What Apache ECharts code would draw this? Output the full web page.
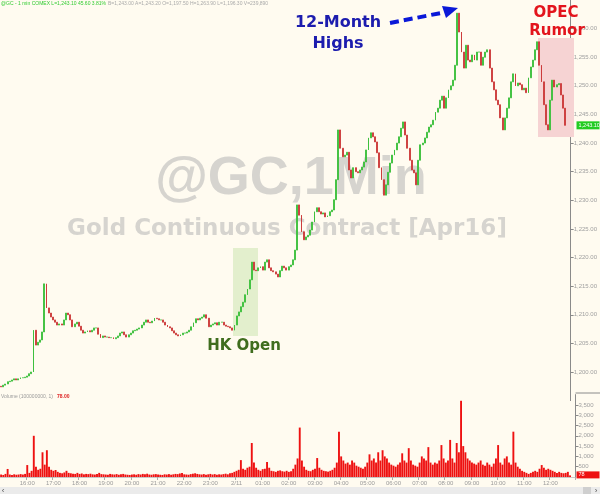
<!DOCTYPE html>
<html><head><meta charset="utf-8">
<script src="https://cdn.jsdelivr.net/npm/echarts@6/dist/echarts.min.js"></script>
<style>html,body{margin:0;padding:0;background:#fffbf0}#c{width:600px;height:494px}</style>
</head><body><div id="c"></div>
<script>
// ---- data ----
const startHour = 15, barMinutes = 5, totalBars = 264;
const hourLabels = ['16:00','17:00','18:00','19:00','20:00','21:00','22:00','23:00','2/11','01:00','02:00','03:00','04:00','05:00','06:00','07:00','08:00','09:00','10:00','11:00','12:00'];
const priceTicks = { min: 1195, max: 1265, interval: 5 };
const volumeTicks = { min: 0, max: 4000, interval: 500 };
const firstOpen = 1197.5;
const closes = [
1197.4,1197.7,1197.9,1198.3,1198.4,1198.6,1198.8,1198.6,1198.8,1199.0,
1199.0,1199.1,1199.3,1199.7,1200.0,1207.3,1204.7,1205.2,1205.6,1207.0,
1215.4,1211.2,1210.3,1209.6,1209.1,1208.7,1208.2,1208.4,1208.2,1209.1,
1210.3,1210.0,1209.1,1207.9,1208.4,1208.7,1208.0,1207.3,1206.8,1207.0,
1207.2,1207.0,1207.3,1207.7,1207.7,1206.6,1206.0,1206.3,1206.1,1206.1,
1206.0,1206.0,1205.8,1206.0,1206.3,1206.8,1207.0,1206.5,1206.1,1206.5,
1206.8,1207.2,1207.3,1207.5,1207.7,1208.2,1208.7,1209.1,1208.7,1208.6,
1208.9,1209.4,1209.3,1209.1,1209.1,1208.7,1208.2,1207.9,1207.7,1207.2,
1206.8,1206.5,1206.3,1206.5,1206.8,1206.8,1207.0,1207.3,1207.9,1208.6,
1209.3,1209.1,1209.4,1209.6,1210.0,1209.4,1207.9,1208.2,1208.4,1208.6,
1208.2,1208.7,1208.7,1208.2,1208.0,1207.9,1207.7,1207.3,1208.2,1209.8,
1210.5,1211.4,1212.2,1213.5,1214.5,1216.1,1219.2,1217.8,1217.7,1218.2,
1218.4,1217.8,1219.2,1219.6,1218.2,1217.7,1217.5,1217.1,1216.6,1217.7,
1218.5,1218.2,1217.8,1218.4,1218.7,1219.6,1221.3,1229.2,1227.4,1224.5,
1223.1,1223.6,1223.9,1224.8,1226.2,1228.0,1228.7,1228.0,1227.6,1227.8,
1227.1,1227.3,1228.0,1228.3,1230.1,1233.6,1242.3,1239.1,1237.6,1237.9,
1238.4,1235.3,1233.9,1235.7,1235.0,1234.8,1235.3,1235.8,1236.7,1238.8,
1240.9,1241.8,1241.1,1240.2,1238.3,1235.7,1233.6,1230.9,1232.7,1234.9,
1236.5,1237.9,1238.8,1240.0,1241.1,1242.6,1243.7,1241.4,1239.1,1237.0,
1235.3,1234.8,1232.7,1237.0,1239.7,1240.0,1240.9,1241.9,1242.8,1243.2,
1244.0,1245.4,1246.1,1247.5,1248.2,1246.1,1247.9,1249.3,1250.0,1251.0,
1253.6,1262.7,1259.4,1255.9,1253.1,1257.1,1254.5,1254.2,1255.4,1254.5,
1255.9,1255.9,1253.6,1255.0,1255.9,1256.3,1253.1,1250.7,1249.3,1247.5,
1246.7,1244.4,1242.3,1244.4,1246.1,1247.9,1250.7,1252.1,1250.0,1250.5,
1250.2,1249.3,1249.6,1248.8,1251.4,1253.3,1254.5,1256.3,1257.7,1253.6,
1250.7,1246.7,1243.2,1242.3,1247.5,1251.0,1249.8,1250.2,1250.4,1248.4,
1246.1,1243.1
];
const volumes = [
120,100,150,390,120,100,130,110,120,140,120,150,580,200,300,2000,500,350,400,1200,
600,1300,500,350,300,340,250,200,180,220,300,200,180,160,150,200,150,170,130,150,
140,160,130,120,150,200,140,130,120,110,150,130,120,140,110,130,150,120,110,100,
120,130,110,140,120,150,130,160,120,110,130,140,120,110,100,130,120,140,110,130,
150,140,170,200,130,120,110,140,160,180,150,130,120,140,110,130,150,120,140,110,
130,120,140,160,130,180,200,250,300,350,820,400,350,450,500,1650,700,450,350,300,
380,400,730,450,300,280,250,300,320,280,260,300,250,280,400,600,900,2400,800,500,
350,300,280,350,400,920,450,350,300,280,260,300,350,450,700,2200,1000,800,650,700,
600,800,700,550,500,450,400,500,700,1100,800,900,700,1200,800,1300,1000,900,700,600,
550,500,600,700,1150,800,700,1400,800,600,550,500,700,1000,900,800,1450,700,600,700,
650,800,1550,900,700,800,1800,900,700,1650,1200,3700,1500,1200,900,800,700,650,600,700,
800,600,550,700,600,500,650,900,1550,700,600,900,1000,700,600,2200,700,500,400,300,
250,200,150,200,250,300,250,400,580,450,350,400,350,300,250,200,250,200,180,200,
250,78
];
const headerGreen = '@GC - 1 min COMEX L=1,243.10 45.60 3.81%';
const headerGray = 'B=1,243.00 A=1,243.20 O=1,197.50 H=1,263.90 L=1,196.30 V=239,890';

// ---- build ----
const categories = [];
for (let i = 0; i < totalBars; i++) {
  const m = startHour * 60 + i * barMinutes;
  const h = Math.floor(m / 60) % 24, mm = m % 60;
  categories.push(String(h).padStart(2,'0') + ':' + String(mm).padStart(2,'0'));
}
const candles = closes.map((c, i) => {
  const o = i === 0 ? firstOpen : closes[i-1];
  return [o, c, Math.min(o, c), Math.max(o, c)];
});
const lastPrice = closes[closes.length-1];
const lastVol = volumes[volumes.length-1];
const FONT = 'Liberation Sans, Arial, sans-serif';
const VFONT = 'DejaVu Sans, Verdana, sans-serif';
const fmt = v => v.toLocaleString('en-US', {minimumFractionDigits:2, maximumFractionDigits:2});
const firstLabelIdx = (60 / barMinutes);
const isHour = idx => idx >= firstLabelIdx && (idx - firstLabelIdx) % (60 / barMinutes) === 0;

const chart = echarts.init(document.getElementById('c'), null, {renderer:'canvas'});
const gridRight = 24.5;
chart.setOption({
  backgroundColor: '#fffbf0',
  animation: false,
  grid: [
    {left: 0, right: gridRight, top: 0, height: 400.6},
    {left: 0, right: gridRight, top: 394.6, height: 82.4}
  ],
  xAxis: [
    {type:'category', gridIndex:0, data:categories, show:false, boundaryGap:true},
    {type:'category', gridIndex:1, data:categories, boundaryGap:true,
      axisLine:{show:true, lineStyle:{color:'#c8c8c8', width:1}},
      axisTick:{show:true, interval:(i)=>isHour(i), length:3, lineStyle:{color:'#aaa'}},
      axisLabel:{interval:(i)=>isHour(i), formatter:(v,i)=>hourLabels[(i-firstLabelIdx)/(60/barMinutes)],
        fontSize:6, color:'#9a9a9a', fontFamily:FONT, margin:3}
    }
  ],
  yAxis: [
    {type:'value', gridIndex:0, position:'right', min:priceTicks.min, max:priceTicks.max, interval:priceTicks.interval,
      splitLine:{show:false},
      axisLine:{show:true, lineStyle:{color:'#8a8a8a'}},
      axisTick:{show:true, length:3, lineStyle:{color:'#8a8a8a'}},
      axisLabel:{showMinLabel:false, showMaxLabel:false, fontSize:6, color:'#a0a0a0', fontFamily:FONT, margin:3, formatter:fmt}
    },
    {type:'value', gridIndex:1, position:'right', min:volumeTicks.min, max:volumeTicks.max, interval:volumeTicks.interval,
      splitLine:{show:false},
      axisLine:{show:true, lineStyle:{color:'#8a8a8a'}},
      axisTick:{show:true, length:3, lineStyle:{color:'#8a8a8a'}},
      axisLabel:{showMinLabel:false, showMaxLabel:false, fontSize:6, color:'#a0a0a0', fontFamily:FONT, margin:3,
        formatter:v=>v.toLocaleString('en-US')}
    }
  ],
  series: [
    {type:'candlestick', xAxisIndex:0, yAxisIndex:0, data:candles, barWidth:1.4, z:5,
      itemStyle:{color:'#3cbf3c', color0:'#cc3a3a', borderColor:'#3cbf3c', borderColor0:'#cc3a3a', borderWidth:0.9}},
    {type:'bar', xAxisIndex:1, yAxisIndex:1, data:volumes, barWidth:1.9, z:5,
      itemStyle:{color:'#ee1111'}}
  ]
});

const yPrice = chart.convertToPixel({yAxisIndex:0}, lastPrice);
const yVol = chart.convertToPixel({yAxisIndex:1}, lastVol);
const axisX = 600 - gridRight;

chart.setOption({
  graphic: [
    {type:'rect', z:1, shape:{x:233, y:248, width:25, height:88}, style:{fill:'#e3efcd'}},
    {type:'rect', z:1, shape:{x:538, y:38, width:36, height:99}, style:{fill:'#f6d3d3'}},
    {type:'text', z:1, x:291, y:179, style:{text:'@GC,1Min', fontSize:54, fontWeight:'bold', fontFamily:FONT, fill:'#d6d4cf', align:'center', verticalAlign:'middle'}},
    {type:'text', z:1, x:287, y:229, style:{text:'Gold Continuous Contract [Apr16]', fontSize:23, fontWeight:'bold', fontFamily:VFONT, fill:'#d6d4cf', align:'center', verticalAlign:'middle'}},
    {type:'text', z:20, x:1, y:4, style:{text:headerGreen, fontSize:5, fontFamily:FONT, fill:'#33cc33', align:'left', verticalAlign:'middle'}},
    {type:'text', z:20, x:108, y:4, style:{text:headerGray, fontSize:5, fontFamily:FONT, fill:'#aaaaaa', align:'left', verticalAlign:'middle'}},
    {type:'text', z:20, x:1, y:397, style:{text:'Volume (100000000, 1)', fontSize:5, fontFamily:FONT, fill:'#9a9a9a', align:'left', verticalAlign:'middle'}},
    {type:'text', z:20, x:57, y:397, style:{text:fmt(lastVol), fontSize:5, fontWeight:'bold', fontFamily:FONT, fill:'#dd2222', align:'left', verticalAlign:'middle'}},
    {type:'text', z:30, x:338, y:23, style:{text:'12-Month', fontSize:16, fontWeight:'bold', fontFamily:VFONT, fill:'#1c1cae', align:'center', verticalAlign:'middle'}},
    {type:'text', z:30, x:338, y:44, style:{text:'Highs', fontSize:16, fontWeight:'bold', fontFamily:VFONT, fill:'#1c1cae', align:'center', verticalAlign:'middle'}},
    {type:'line', z:30, shape:{x1:390, y1:23, x2:446, y2:12}, style:{stroke:'#0a18d8', lineWidth:4, lineDash:[9,5]}},
    {type:'polygon', z:30, shape:{points:[[442,6],[458,8],[446,18]]}, style:{fill:'#0a18d8'}},
    {type:'text', z:30, x:556, y:13, style:{text:'OPEC', fontSize:15, fontWeight:'bold', fontFamily:VFONT, fill:'#e3141c', align:'center', verticalAlign:'middle'}},
    {type:'text', z:30, x:557, y:31, style:{text:'Rumor', fontSize:15, fontWeight:'bold', fontFamily:VFONT, fill:'#e3141c', align:'center', verticalAlign:'middle'}},
    {type:'text', z:30, x:244, y:346, style:{text:'HK Open', fontSize:15, fontWeight:'bold', fontFamily:VFONT, fill:'#3f6d1e', align:'center', verticalAlign:'middle'}},
    {type:'rect', z:30, shape:{x:axisX+1, y:yPrice-4, width:23, height:8}, style:{fill:'#22cc22'}},
    {type:'text', z:31, x:axisX+3, y:yPrice, style:{text:fmt(lastPrice), fontSize:5.5, fontFamily:FONT, fill:'#ffffff', align:'left', verticalAlign:'middle'}},
    {type:'rect', z:30, shape:{x:axisX+1, y:yVol-4, width:23, height:7}, style:{fill:'#ee1111'}},
    {type:'text', z:31, x:axisX+3, y:yVol-0.5, style:{text:String(lastVol), fontSize:5.5, fontFamily:FONT, fill:'#ffffff', align:'left', verticalAlign:'middle'}},
    {type:'line', z:30, shape:{x1:axisX, y1:393, x2:600, y2:393}, style:{stroke:'#8a8a8a', lineWidth:1}},
    {type:'rect', z:30, shape:{x:0, y:487, width:600, height:7}, style:{fill:'#ebebeb'}},
    {type:'rect', z:31, shape:{x:583, y:487, width:8, height:7}, style:{fill:'#cfcfcf'}},
    {type:'text', z:32, x:3, y:491, style:{text:'‹', fontSize:8, fontFamily:FONT, fill:'#555', align:'center', verticalAlign:'middle'}},
    {type:'text', z:32, x:596, y:491, style:{text:'›', fontSize:8, fontFamily:FONT, fill:'#555', align:'center', verticalAlign:'middle'}}
  ]
});
</script>
</body></html>
